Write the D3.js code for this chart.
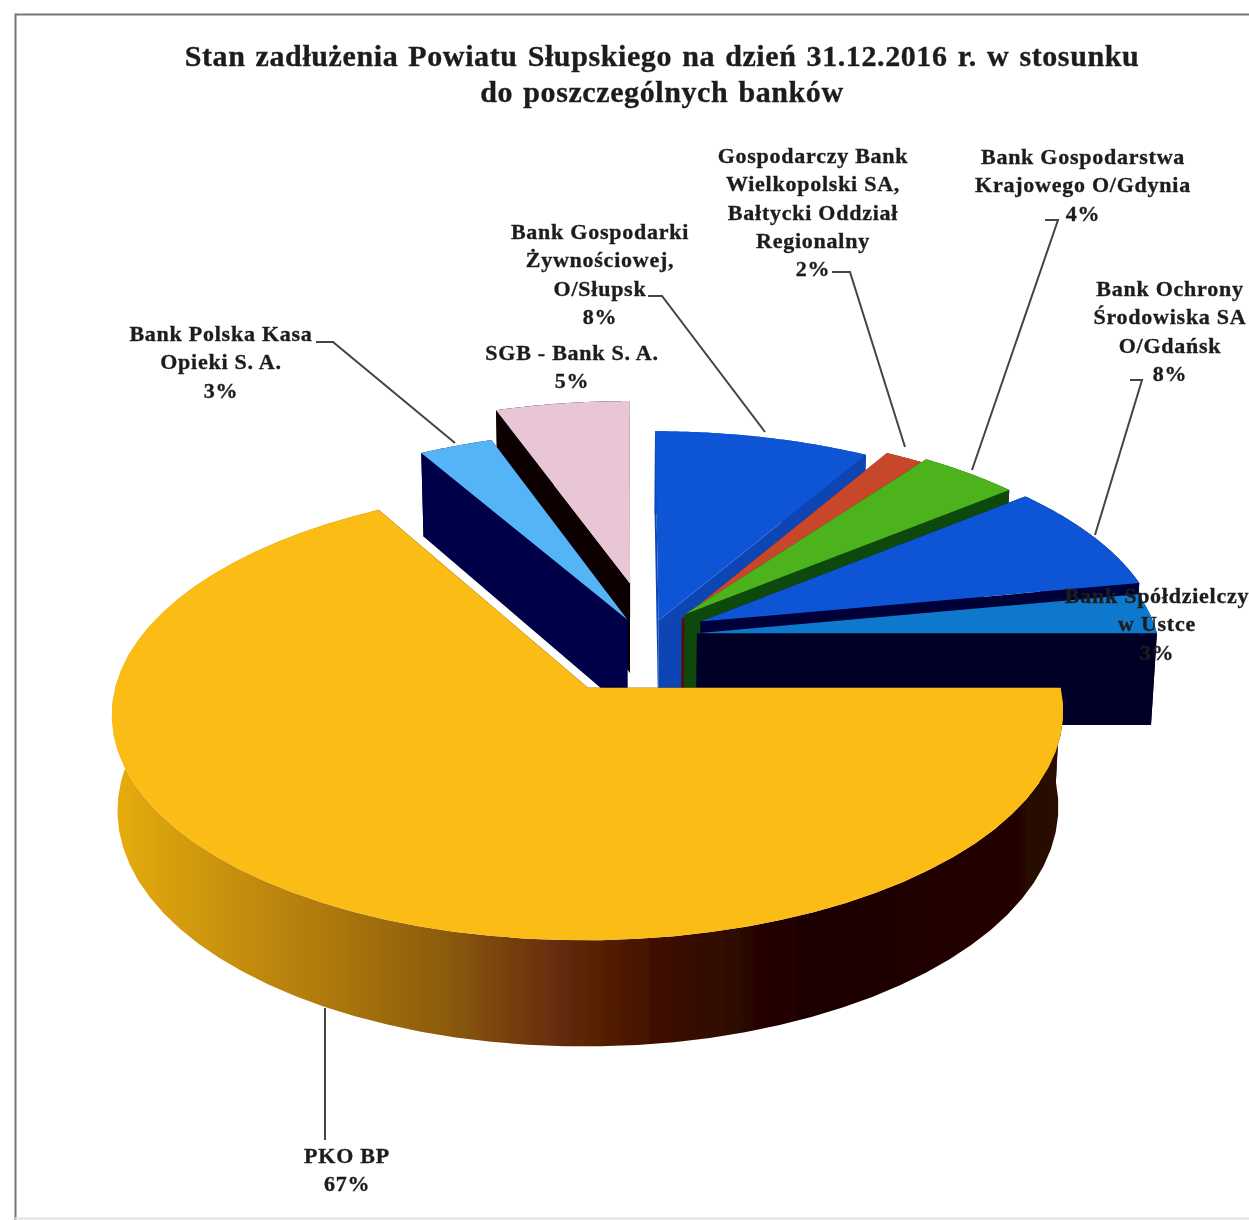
<!DOCTYPE html>
<html lang="pl">
<head>
<meta charset="utf-8">
<title>Stan zadłużenia Powiatu Słupskiego</title>
<script src="https://cdn.jsdelivr.net/npm/d3@7"></script>
<style>
html,body{margin:0;padding:0;background:#fff;}
svg{display:block;}
text{font-family:"Liberation Serif",serif;font-weight:bold;fill:#1e1e1e;stroke:#1e1e1e;stroke-width:0.35px;}
</style>
</head>
<body>
<svg id="chart" width="1249" height="1220"></svg>
<script>
// ---- data ----
const banks = ["PKO BP","Bank Polska Kasa Opieki S. A.","SGB - Bank S. A.","Bank Gospodarki Żywnościowej, O/Słupsk","Gospodarczy Bank Wielkopolski SA, Bałtycki Oddział Regionalny","Bank Gospodarstwa Krajowego O/Gdynia","Bank Ochrony Środowiska SA O/Gdańsk","Bank Spółdzielczy w Ustce"];
const shares = [66.8,2.9,5.3,8.4,1.6,4,8,3];
const titleLines = ["Stan zadłużenia Powiatu Słupskiego na dzień 31.12.2016 r. w stosunku","do poszczególnych banków"];
const labelLines = [
  ["PKO BP","67%"],
  ["Bank Polska Kasa","Opieki S. A.","3%"],
  ["SGB - Bank S. A.","5%"],
  ["Bank Gospodarki","Żywnościowej,","O/Słupsk","8%"],
  ["Gospodarczy Bank","Wielkopolski SA,","Bałtycki Oddział","Regionalny","2%"],
  ["Bank Gospodarstwa","Krajowego O/Gdynia","4%"],
  ["Bank Ochrony","Środowiska SA","O/Gdańsk","8%"],
  ["Bank Spółdzielczy","w Ustce","3%"]
];
// ---- styling / layout options ----
const topColors  = ["#FCBC12","#55B4F5","#E8C6D6","#0B55D5","#C8462A","#4DB31A","#0B55D5","#0A78CC"];
const wallColors = ["#2a0500","#02024A","#0c0404","#0A45B5","#5a1010","#0B4A0B","#030338","#020226"];
const explodeU = [-0.072,0.012,0.018,0.08,0.131,0.138,0.172,0.163];
const explodeV = [-0.13,0.184,0.36,0.18,0.19,0.21,0.175,0.12];
const drawOrder = [2,1,3,4,5,6,7,0];
const rimStops = [[112,"#E8AE10"],[164,"#D8A010"],[323,"#B07A10"],[450,"#8A5A08"],[546,"#6A3008"],[674,"#3A0A02"],[800,"#1F0400"],[993,"#200400"],[1062,"#2A0A00"]];
const labelCentres = [[347,1163],[221,341],[572,360],[600,239],[813,163],[1083,164],[1170,296],[1157,603]];
const leaders = [
  [[325,1008],[325,1140]],
  [[316,342],[333,342],[455,443]],
  null,
  [[648,296],[662,296],[765,432]],
  [[832,272],[850,272],[905,447]],
  [[1045,220],[1058,220],[972,470]],
  [[1130,380],[1142,380],[1095,535]],
  null
];
const cx=622, cy=659, R=466, Ry=218, persp=0.11, depth=93, taper=0.989;

// ---- drawing ----
const svg = d3.select("#chart");
const defs = svg.append("defs");
defs.append("filter").attr("id","scan").attr("x","-5%").attr("y","-20%").attr("width","110%").attr("height","140%")
  .append("feGaussianBlur").attr("stdDeviation",0.55);
defs.append("filter").attr("id","soft").append("feGaussianBlur").attr("stdDeviation",0.7);
const rimGrad = defs.append("linearGradient").attr("id","rim").attr("gradientUnits","userSpaceOnUse")
  .attr("x1",112).attr("x2",1062).attr("y1",0).attr("y2",0);
rimGrad.selectAll("stop").data(rimStops).join("stop")
  .attr("offset",d=>(d[0]-112)/(1062-112)).attr("stop-color",d=>d[1]);

// scan frame
svg.append("path").attr("d","M15.5 1220V14.5H1249").attr("fill","none").attr("stroke","#777").attr("stroke-width",2).attr("filter","url(#soft)");
svg.append("path").attr("d","M15 1218.5H1249").attr("fill","none").attr("stroke","#e2e2e2").attr("stroke-width",2);

// title
svg.append("g").selectAll("text").data(titleLines).join("text")
  .attr("x",662).attr("y",(d,i)=>66+i*36).attr("text-anchor","middle")
  .attr("font-size",30).attr("letter-spacing",0.6).attr("word-spacing",2).attr("filter","url(#scan)").text(d=>d);

const leaderLine = d3.line();
svg.append("g").selectAll("path").data(leaders.filter(Boolean)).join("path")
  .attr("d",leaderLine).attr("fill","none").attr("stroke","#444").attr("stroke-width",2);

// exploded perspective pie
const pie = d3.pie().sort(null).startAngle(Math.PI/2).endAngle(Math.PI/2+2*Math.PI);
const arcs = pie(shares);
function project(u,v,low){
  const s = 1/(1+persp*v);
  const x = cx+R*u*s, y = cy-Ry*v*s;
  return low ? [cx+(x-cx)*taper, y+depth*s] : [x,y];
}
const closed = d3.line().curve(d3.curveLinearClosed);
const gSlices = svg.append("g").attr("filter","url(#soft)");
drawOrder.forEach(k=>{
  const a = arcs[k], eu = explodeU[k], ev = explodeV[k];
  const rimA = d3.range(0,61).map(i=>a.startAngle+(a.endAngle-a.startAngle)*i/60);
  const top = rimA.map(t=>project(eu+Math.sin(t),ev+Math.cos(t),false));
  const bot = rimA.map(t=>project(eu+Math.sin(t),ev+Math.cos(t),true));
  const apexT = project(eu,ev,false), apexB = project(eu,ev,true);
  const g = gSlices.append("g").attr("class","slice");
  const wall = wallColors[k];
  g.append("path").attr("d",closed([apexT,top[0],bot[0],apexB])).attr("fill",wall);
  g.append("path").attr("d",closed([apexT,top[60],bot[60],apexB])).attr("fill",wall);
  g.append("path").attr("d",closed(top.concat(bot.slice().reverse())))
    .attr("fill",k===0?"url(#rim)":wall);
  g.append("path").attr("d",closed([apexT].concat(top))).attr("fill",topColors[k]);
});

// labels sit over the pie (the last one runs across it)
const lab = svg.append("g").attr("filter","url(#scan)");
labelLines.forEach((lines,k)=>{
  lab.selectAll(null).data(lines).join("text")
    .attr("x",labelCentres[k][0]).attr("y",(d,i)=>labelCentres[k][1]+i*28.3)
    .attr("text-anchor","middle").attr("font-size",22).attr("letter-spacing",0.75).text(d=>d);
});
</script>
</body>
</html>
